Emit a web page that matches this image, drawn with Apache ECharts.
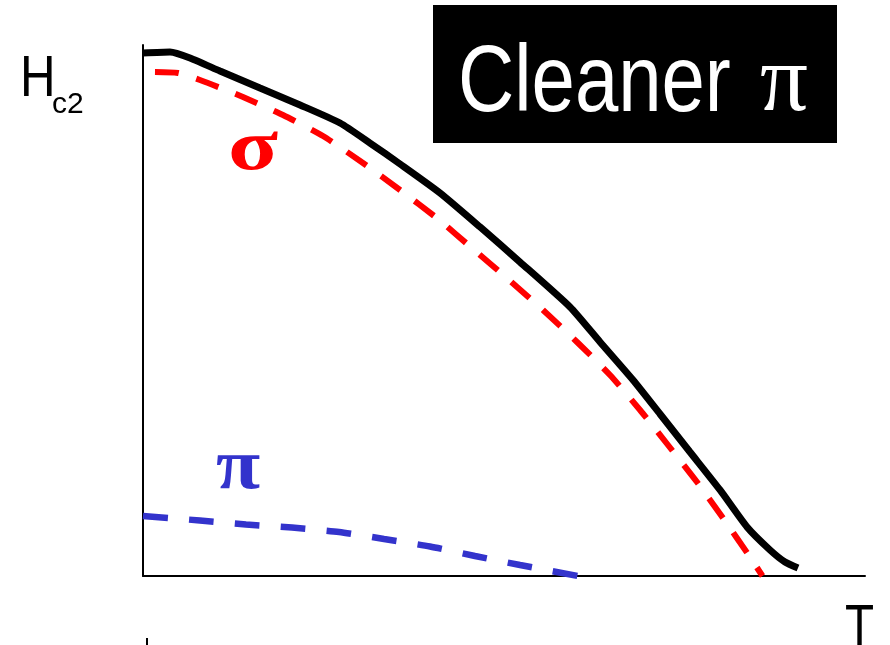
<!DOCTYPE html>
<html>
<head>
<meta charset="utf-8">
<script src="https://cdn.jsdelivr.net/npm/echarts@6/dist/echarts.min.js"></script>
<style>
  html, body { margin: 0; padding: 0; background: #fff; }
  #chart { width: 890px; height: 645px; }
</style>
</head>
<body>
<div id="chart"></div>
<script>
// Upper critical field vs temperature (arbitrary units, 0-100 on both axes)
const tTotal = [0, 3.74, 6.51, 10.66, 16.20, 21.75, 27.29, 31.44, 35.60, 41.14, 46.68, 52.22, 59.14, 63.30, 67.87, 71.61, 75.76, 79.92, 83.66, 86.84, 88.92, 90.72];
const hTotal = [98.49, 98.68, 97.55, 95.10, 91.90, 88.70, 85.31, 81.54, 77.59, 72.13, 65.73, 59.13, 50.66, 44.07, 36.91, 30.51, 23.35, 16.20, 9.23, 4.90, 2.64, 1.51];

const tSigma = [1.66, 4.85, 7.89, 13.85, 19.39, 24.93, 30.47, 35.60, 40.86, 45.71, 50.55, 55.40, 60.11, 64.68, 68.84, 72.71, 76.73, 80.33, 84.07, 85.80];
const hSigma = [94.92, 94.73, 93.41, 90.21, 86.82, 82.86, 77.78, 72.69, 67.23, 61.58, 55.93, 50.09, 44.07, 37.85, 31.26, 24.67, 17.70, 10.92, 3.58, 0];

const tPi = [0, 7.89, 14.27, 20.64, 27.15, 33.38, 39.75, 45.98, 52.22, 60.25];
const hPi = [11.30, 10.45, 9.70, 9.13, 8.29, 6.97, 5.56, 3.77, 2.07, 0];

const zip = (xs, ys) => xs.map((x, i) => [x, ys[i]]);

const SANS = '"Liberation Sans", Arial, sans-serif';
const SERIF = '"Liberation Serif", "Times New Roman", serif';
const NARROW = 0.82; // horizontal squeeze for a condensed sans look

const chart = echarts.init(document.getElementById('chart'), null, { renderer: 'canvas' });

chart.setOption({
  animation: false,
  backgroundColor: '#ffffff',
  grid: { left: 143, right: 25, top: 45, bottom: 69 },
  xAxis: {
    type: 'value', min: 0, max: 100,
    axisLine: { show: true, lineStyle: { color: '#000', width: 2 } },
    axisTick: { show: false }, axisLabel: { show: false }, splitLine: { show: false }
  },
  yAxis: {
    type: 'value', min: 0, max: 100,
    axisLine: { show: true, lineStyle: { color: '#000', width: 2 } },
    axisTick: { show: false }, axisLabel: { show: false }, splitLine: { show: false }
  },
  series: [
    {
      name: 'total', type: 'line', data: zip(tTotal, hTotal), smooth: 0.2,
      symbol: 'none', lineStyle: { color: '#000', width: 7, cap: 'butt' }, z: 3
    },
    {
      name: 'sigma', type: 'line', data: zip(tSigma, hSigma), smooth: 0.2,
      symbol: 'none', lineStyle: { color: '#ff0000', width: 6, type: [24, 18], cap: 'butt' }, z: 2
    },
    {
      name: 'pi', type: 'line', data: zip(tPi, hPi), smooth: 0.2,
      symbol: 'none', lineStyle: { color: '#3333cc', width: 6.5, type: [25, 21], cap: 'butt' }, z: 2
    }
  ],
  graphic: [
    { type: 'rect', shape: { x: 433, y: 5, width: 404, height: 138 }, style: { fill: '#000' }, z: 10 },
    { type: 'text', x: 458, y: 85, scaleX: NARROW, z: 11,
      style: { text: 'Cleaner', fill: '#fff', font: '95px ' + SANS, verticalAlign: 'middle' } },
    { type: 'text', x: 760, y: 85, z: 11,
      style: { text: 'π', fill: '#fff', font: '95px ' + SERIF, verticalAlign: 'middle' } },
    { type: 'text', x: 20, y: 80, scaleX: 0.85, z: 11,
      style: { text: 'H', fill: '#000', font: '58px ' + SANS, verticalAlign: 'middle' } },
    { type: 'text', x: 52, y: 104.5, scaleX: 1.0, z: 11,
      style: { text: 'c2', fill: '#000', font: '30px ' + SANS, verticalAlign: 'middle' } },
    { type: 'text', x: 845, y: 629, scaleX: NARROW, z: 11,
      style: { text: 'T', fill: '#000', font: '58px ' + SANS, verticalAlign: 'middle' } },
    { type: 'text', x: 228, y: 150, scaleX: 1.28, z: 11,
      style: { text: 'σ', fill: '#ff0000', font: 'bold 72px ' + SERIF, verticalAlign: 'middle' } },
    { type: 'text', x: 216, y: 469, scaleX: 1.12, z: 11,
      style: { text: 'π', fill: '#3333cc', font: 'bold 72px ' + SERIF, verticalAlign: 'middle' } },
    { type: 'line', shape: { x1: 147, y1: 638, x2: 147, y2: 645 }, style: { stroke: '#000', lineWidth: 2 } }
  ]
});
</script>
</body>
</html>
